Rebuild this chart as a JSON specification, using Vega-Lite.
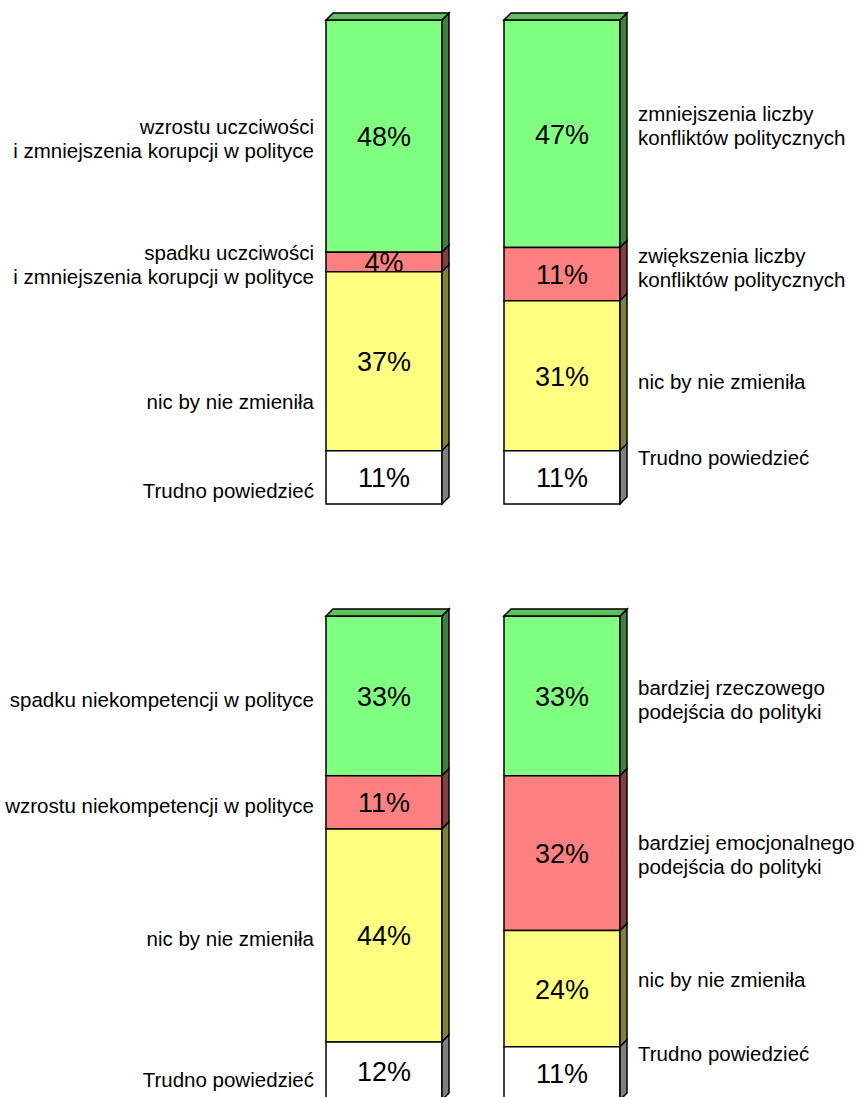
{
  "$schema": "https://vega.github.io/schema/vega-lite/v6.json",
  "width": 860,
  "height": 1097,
  "autosize": {"type": "fit", "contains": "padding"},
  "padding": 0,
  "background": "white",
  "config": {"view": {"stroke": null}, "text": {"font": "Liberation Sans", "color": "black"}},
  "datasets": {
    "seg": [
      {"panel": "A", "row": 1, "col": 0, "kind": "g", "o": 4, "value": 48},
      {"panel": "A", "row": 1, "col": 0, "kind": "r", "o": 3, "value": 4},
      {"panel": "A", "row": 1, "col": 0, "kind": "y", "o": 2, "value": 37},
      {"panel": "A", "row": 1, "col": 0, "kind": "w", "o": 1, "value": 11},
      {"panel": "B", "row": 1, "col": 1, "kind": "g", "o": 4, "value": 47},
      {"panel": "B", "row": 1, "col": 1, "kind": "r", "o": 3, "value": 11},
      {"panel": "B", "row": 1, "col": 1, "kind": "y", "o": 2, "value": 31},
      {"panel": "B", "row": 1, "col": 1, "kind": "w", "o": 1, "value": 11},
      {"panel": "C", "row": 2, "col": 0, "kind": "g", "o": 4, "value": 33},
      {"panel": "C", "row": 2, "col": 0, "kind": "r", "o": 3, "value": 11},
      {"panel": "C", "row": 2, "col": 0, "kind": "y", "o": 2, "value": 44},
      {"panel": "C", "row": 2, "col": 0, "kind": "w", "o": 1, "value": 12},
      {"panel": "D", "row": 2, "col": 1, "kind": "g", "o": 4, "value": 33},
      {"panel": "D", "row": 2, "col": 1, "kind": "r", "o": 3, "value": 32},
      {"panel": "D", "row": 2, "col": 1, "kind": "y", "o": 2, "value": 24},
      {"panel": "D", "row": 2, "col": 1, "kind": "w", "o": 1, "value": 11}
    ],
    "lab": [
      {"row": 1, "col": 0, "at": 77.7, "text": "wzrostu uczciwości\ni zmniejszenia korupcji w polityce"},
      {"row": 1, "col": 0, "at": 51.7, "text": "spadku uczciwości\ni zmniejszenia korupcji w polityce"},
      {"row": 1, "col": 0, "at": 20.9, "text": "nic by nie zmieniła"},
      {"row": 1, "col": 0, "at": 2.5, "text": "Trudno powiedzieć"},
      {"row": 1, "col": 1, "at": 80.4, "text": "zmniejszenia liczby\nkonfliktów politycznych"},
      {"row": 1, "col": 1, "at": 51.0, "text": "zwiększenia liczby\nkonfliktów politycznych"},
      {"row": 1, "col": 1, "at": 25.0, "text": "nic by nie zmieniła"},
      {"row": 1, "col": 1, "at": 9.3, "text": "Trudno powiedzieć"},
      {"row": 2, "col": 0, "at": 82.4, "text": "spadku niekompetencji w polityce"},
      {"row": 2, "col": 0, "at": 60.5, "text": "wzrostu niekompetencji w polityce"},
      {"row": 2, "col": 0, "at": 33.1, "text": "nic by nie zmieniła"},
      {"row": 2, "col": 0, "at": 3.9, "text": "Trudno powiedzieć"},
      {"row": 2, "col": 1, "at": 84.9, "text": "bardziej rzeczowego\npodejścia do polityki"},
      {"row": 2, "col": 1, "at": 52.9, "text": "bardziej emocjonalnego\npodejścia do polityki"},
      {"row": 2, "col": 1, "at": 24.6, "text": "nic by nie zmieniła"},
      {"row": 2, "col": 1, "at": 9.3, "text": "Trudno powiedzieć"}
    ]
  },
  "layer": [
    {
      "data": {"name": "seg"},
      "transform": [
        {"filter": "datum.row == 1"},
        {"stack": "value", "groupby": ["panel"], "sort": [{"field": "o", "order": "ascending"}], "as": ["lo", "hi"]},
        {"calculate": "datum.col - 0.3258", "as": "xl"},
        {"calculate": "datum.col + 0.3258", "as": "xr"}
      ],
      "layer": [
        {
          "mark": {"type": "rect", "stroke": "black", "strokeWidth": 1.5, "clip": true},
          "encoding": {
            "x": {"field": "xl", "type": "quantitative", "scale": {"domain": [-2.1573, 2.6742], "nice": false, "zero": false}, "axis": null},
            "x2": {"field": "xr"},
            "y": {"field": "lo", "type": "quantitative", "scale": {"domain": [-122.52, 104.13], "nice": false, "zero": false}, "axis": null},
            "y2": {"field": "hi"},
            "fill": {"field": "kind", "type": "nominal", "legend": null, "scale": {"domain": ["g", "r", "y", "w", "gs", "rs", "ys", "ws"], "range": ["#80FF80", "#FF8080", "#FFFF80", "#FFFFFF", "#408040", "#804040", "#808040", "#808080"]}}
          }
        },
        {
          "transform": [
            {"fold": ["lo", "hi"], "as": ["edge", "ev"]},
            {"calculate": "datum.edge == 'lo' ? datum.xr : datum.xr + 0.0393", "as": "sx"},
            {"calculate": "datum.edge == 'lo' ? 0 : 1.4463", "as": "off"},
            {"calculate": "datum.lo + datum.off", "as": "sy0"},
            {"calculate": "datum.hi + datum.off", "as": "sy1"},
            {"calculate": "datum.kind + 's'", "as": "fk"}
          ],
          "mark": {"type": "area", "orient": "vertical", "stroke": "black", "strokeWidth": 1.5, "clip": true},
          "encoding": {
            "x": {"field": "sx", "type": "quantitative"},
            "y": {"field": "sy1", "type": "quantitative"},
            "y2": {"field": "sy0"},
            "fill": {"field": "fk", "type": "nominal", "legend": null},
            "detail": {"field": "panel"}
          }
        },
        {
          "transform": [
            {"filter": "datum.kind == 'g'"},
            {"fold": ["lo", "hi"], "as": ["edge", "ev"]},
            {"calculate": "datum.edge == 'lo' ? datum.xl : datum.xl + 0.0393", "as": "tx0"},
            {"calculate": "datum.edge == 'lo' ? datum.xr : datum.xr + 0.0393", "as": "tx1"},
            {"calculate": "datum.edge == 'lo' ? datum.hi : datum.hi + 1.4463", "as": "ty"}
          ],
          "mark": {"type": "area", "orient": "horizontal", "fill": "#60C060", "stroke": "black", "strokeWidth": 1.5, "clip": true},
          "encoding": {
            "y": {"field": "ty", "type": "quantitative"},
            "x": {"field": "tx0", "type": "quantitative"},
            "x2": {"field": "tx1"},
            "detail": {"field": "panel"}
          }
        },
        {
          "transform": [
            {"calculate": "(datum.lo + datum.hi) / 2", "as": "mid"},
            {"calculate": "datum.value + '%'", "as": "pct"}
          ],
          "mark": {"type": "text", "fontSize": 27, "align": "center", "baseline": "middle", "dy": 2, "clip": true},
          "encoding": {
            "x": {"field": "col", "type": "quantitative"},
            "y": {"field": "mid", "type": "quantitative"},
            "text": {"field": "pct"}
          }
        }
      ]
    },
    {
      "data": {"name": "lab"},
      "transform": [{"filter": "datum.row == 1"}],
      "layer": [
        {
          "transform": [{"filter": "datum.col == 0"}],
          "mark": {"type": "text", "align": "right", "baseline": "middle", "dx": -70, "fontSize": 20.5, "lineBreak": "\n", "lineHeight": 24, "clip": true},
          "encoding": {
            "x": {"field": "col", "type": "quantitative"},
            "y": {"field": "at", "type": "quantitative", "scale": {"domain": [-122.52, 104.13], "nice": false, "zero": false}, "axis": null},
            "text": {"field": "text"}
          }
        },
        {
          "transform": [{"filter": "datum.col == 1"}],
          "mark": {"type": "text", "align": "left", "baseline": "middle", "dx": 76, "fontSize": 20.5, "lineBreak": "\n", "lineHeight": 24, "clip": true},
          "encoding": {
            "x": {"field": "col", "type": "quantitative"},
            "y": {"field": "at", "type": "quantitative"},
            "text": {"field": "text"}
          }
        }
      ]
    },
    {
      "data": {"name": "seg"},
      "transform": [
        {"filter": "datum.row == 2"},
        {"stack": "value", "groupby": ["panel"], "sort": [{"field": "o", "order": "ascending"}], "as": ["lo", "hi"]},
        {"calculate": "datum.col - 0.3258", "as": "xl"},
        {"calculate": "datum.col + 0.3258", "as": "xr"}
      ],
      "layer": [
        {
          "mark": {"type": "rect", "stroke": "black", "strokeWidth": 1.5, "clip": true},
          "encoding": {
            "x": {"field": "xl", "type": "quantitative"},
            "x2": {"field": "xr"},
            "y": {"field": "lo", "type": "quantitative", "scale": {"domain": [0.62, 227.27], "nice": false, "zero": false}, "axis": null},
            "y2": {"field": "hi"},
            "fill": {"field": "kind", "type": "nominal", "legend": null}
          }
        },
        {
          "transform": [
            {"fold": ["lo", "hi"], "as": ["edge", "ev"]},
            {"calculate": "datum.edge == 'lo' ? datum.xr : datum.xr + 0.0393", "as": "sx"},
            {"calculate": "datum.edge == 'lo' ? 0 : 1.4463", "as": "off"},
            {"calculate": "datum.lo + datum.off", "as": "sy0"},
            {"calculate": "datum.hi + datum.off", "as": "sy1"},
            {"calculate": "datum.kind + 's'", "as": "fk"}
          ],
          "mark": {"type": "area", "orient": "vertical", "stroke": "black", "strokeWidth": 1.5, "clip": true},
          "encoding": {
            "x": {"field": "sx", "type": "quantitative"},
            "y": {"field": "sy1", "type": "quantitative"},
            "y2": {"field": "sy0"},
            "fill": {"field": "fk", "type": "nominal", "legend": null},
            "detail": {"field": "panel"}
          }
        },
        {
          "transform": [
            {"filter": "datum.kind == 'g'"},
            {"fold": ["lo", "hi"], "as": ["edge", "ev"]},
            {"calculate": "datum.edge == 'lo' ? datum.xl : datum.xl + 0.0393", "as": "tx0"},
            {"calculate": "datum.edge == 'lo' ? datum.xr : datum.xr + 0.0393", "as": "tx1"},
            {"calculate": "datum.edge == 'lo' ? datum.hi : datum.hi + 1.4463", "as": "ty"}
          ],
          "mark": {"type": "area", "orient": "horizontal", "fill": "#60C060", "stroke": "black", "strokeWidth": 1.5, "clip": true},
          "encoding": {
            "y": {"field": "ty", "type": "quantitative"},
            "x": {"field": "tx0", "type": "quantitative"},
            "x2": {"field": "tx1"},
            "detail": {"field": "panel"}
          }
        },
        {
          "transform": [
            {"calculate": "(datum.lo + datum.hi) / 2", "as": "mid"},
            {"calculate": "datum.value + '%'", "as": "pct"}
          ],
          "mark": {"type": "text", "fontSize": 27, "align": "center", "baseline": "middle", "dy": 2, "clip": true},
          "encoding": {
            "x": {"field": "col", "type": "quantitative"},
            "y": {"field": "mid", "type": "quantitative"},
            "text": {"field": "pct"}
          }
        }
      ]
    },
    {
      "data": {"name": "lab"},
      "transform": [{"filter": "datum.row == 2"}],
      "layer": [
        {
          "transform": [{"filter": "datum.col == 0"}],
          "mark": {"type": "text", "align": "right", "baseline": "middle", "dx": -70, "fontSize": 20.5, "lineBreak": "\n", "lineHeight": 24, "clip": true},
          "encoding": {
            "x": {"field": "col", "type": "quantitative"},
            "y": {"field": "at", "type": "quantitative", "scale": {"domain": [0.62, 227.27], "nice": false, "zero": false}, "axis": null},
            "text": {"field": "text"}
          }
        },
        {
          "transform": [{"filter": "datum.col == 1"}],
          "mark": {"type": "text", "align": "left", "baseline": "middle", "dx": 76, "fontSize": 20.5, "lineBreak": "\n", "lineHeight": 24, "clip": true},
          "encoding": {
            "x": {"field": "col", "type": "quantitative"},
            "y": {"field": "at", "type": "quantitative"},
            "text": {"field": "text"}
          }
        }
      ]
    }
  ],
  "resolve": {"scale": {"y": "independent"}}
}
